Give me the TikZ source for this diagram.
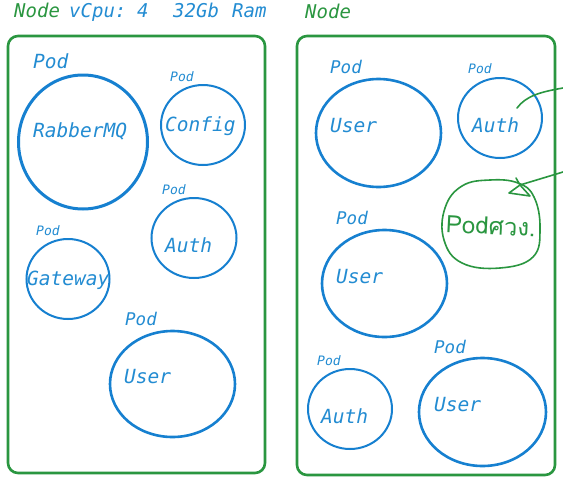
\documentclass[tikz,border=0pt]{standalone}
\usepackage{fontspec}
\setmonofont{DejaVu Sans Mono}
\newfontfamily\thaifont[Script=Thai]{Loma}
\usetikzlibrary{shapes.geometric}
\definecolor{podblue}{RGB}{22,128,208}
\definecolor{txtblue}{RGB}{35,140,210}
\definecolor{nodegreen}{RGB}{42,150,64}
\tikzset{
  nodebox/.style={draw=nodegreen,line width=2.6pt,rounded corners=10pt},
  pod/.style={draw=podblue,line width=2pt,ellipse,inner sep=0pt},
  bigpod/.style={pod,line width=3pt},
  lbl/.style={anchor=base west,inner sep=0pt,text=txtblue,font=\ttfamily\itshape\fontsize{19.5}{19.5}\selectfont},
  smallpod/.style={lbl,font=\ttfamily\itshape\fontsize{13}{13}\selectfont},
  midpod/.style={lbl,font=\ttfamily\itshape\fontsize{17.5}{17.5}\selectfont},
  ttl/.style={lbl,font=\ttfamily\itshape\fontsize{19}{19}\selectfont},
  scribble/.style={draw=nodegreen,line width=1.6pt,line cap=round,line join=round}
}
\begin{document}
\begin{tikzpicture}[x=1pt,y=-1pt]
\useasboundingbox[fill=white] (0,0) rectangle (563,488);
% titles
\node[ttl,text=nodegreen] (t1) at (14,17) {Node};
\node[ttl] (t2) at (69,17) {vCpu:};
\node[ttl] (t3) at (137,17) {4};
\node[ttl] (t4) at (173,17) {32Gb};
\node[ttl] (t5) at (232,17) {Ram};
\node[ttl,text=nodegreen] (t6) at (305,18) {Node};
% boxes
\draw[nodebox] (8,36) rectangle (265,473);
\draw[nodebox] (297,36) rectangle (555,475);
% left node pods
\node[bigpod,minimum width=129pt,minimum height=134pt] (rmq) at (83,142) {};
\node[lbl,font=\ttfamily\itshape\fontsize{19.5}{19.5}\selectfont] (rmqp) at (33,68) {Pod};
\node[lbl] (rmqt) at (33,137) {RabberMQ};

\node[pod,minimum width=84pt,minimum height=80pt] (cfg) at (203,125) {};
\node[smallpod] (cfgp) at (170,81) {Pod};
\node[lbl] (cfgt) at (165,131) {Config};

\node[pod,minimum width=85pt,minimum height=80pt] (au1) at (194,238) {};
\node[smallpod] (au1p) at (162,194) {Pod};
\node[lbl] (au1t) at (165,252) {Auth};

\node[pod,minimum width=83pt,minimum height=80pt] (gw) at (68,279) {};
\node[smallpod] (gwp) at (36,235) {Pod};
\node[lbl] (gwt) at (27,285) {Gateway};

\node[pod,line width=2.6pt,minimum width=125pt,minimum height=106pt] (us1) at (172.5,384) {};
\node[midpod] (us1p) at (125,325) {Pod};
\node[lbl] (us1t) at (124,383) {User};

% right node pods
\node[pod,line width=2.6pt,minimum width=125pt,minimum height=108pt] (us2) at (378.5,133) {};
\node[midpod] (us2p) at (330,73) {Pod};
\node[lbl] (us2t) at (330,132) {User};

\node[pod,minimum width=84pt,minimum height=80pt] (au2) at (500,118) {};
\node[smallpod] (au2p) at (468,73) {Pod};
\node[lbl] (au2t) at (472,132) {Auth};

\node[pod,line width=2.6pt,minimum width=125pt,minimum height=107pt] (us3) at (384.5,283.5) {};
\node[midpod] (us3p) at (336,224) {Pod};
\node[lbl] (us3t) at (336,283) {User};

\node[pod,minimum width=84pt,minimum height=80pt] (au3) at (350,409) {};
\node[smallpod] (au3p) at (317,365) {Pod};
\node[lbl] (au3t) at (321,423) {Auth};

\node[pod,line width=2.6pt,minimum width=127pt,minimum height=108pt] (us4) at (482.5,412) {};
\node[midpod] (us4p) at (434,353) {Pod};
\node[lbl] (us4t) at (434,411) {User};

% hand-drawn annotation
\draw[scribble] plot[smooth cycle,tension=0.7] coordinates {(462,186) (490,180) (518,183) (534,197) (540,228) (533,257) (500,268) (462,263) (444,240) (445,208)};
\node[inner sep=0pt,text=nodegreen,font=\thaifont\fontsize{24}{24}\selectfont,rotate=-3] (blob) at (491,226) {Podศวง.};
\coordinate (e1) at (563,88);
\coordinate (e2) at (563,172);
\coordinate (tip) at (520,185);
\draw[scribble] (517,108) .. controls (526,96) and (540,92) .. (e1);
\draw[scribble] (e2) -- (tip);
\draw[scribble] (tip) -- (516,178) (tip) -- (509,193) -- (530,196) -- (tip);
\end{tikzpicture}
\end{document}
